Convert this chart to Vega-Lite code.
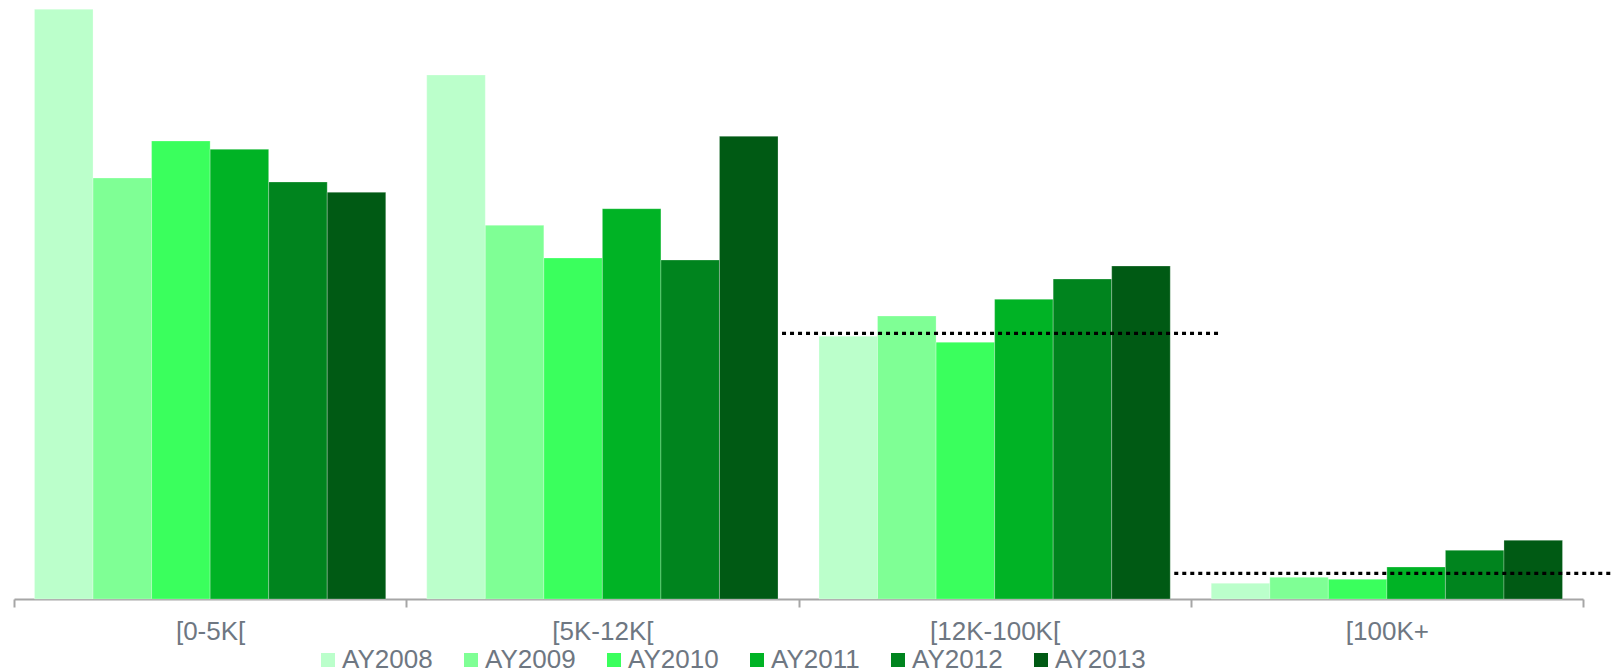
{
  "$schema": "https://vega.github.io/schema/vega-lite/v6.json",
  "autosize": "none",
  "width": 1569,
  "height": 599,
  "padding": {"left": 14, "top": 0, "right": 29, "bottom": 72},
  "background": "#ffffff",
  "config": {
    "view": {"stroke": null},
    "font": "Liberation Sans"
  },
  "datasets": {
    "bars": [
      {"band": "[0-5K[", "year": "AY2008", "value": 589.7},
      {"band": "[0-5K[", "year": "AY2009", "value": 421.0},
      {"band": "[0-5K[", "year": "AY2010", "value": 458.0},
      {"band": "[0-5K[", "year": "AY2011", "value": 449.7},
      {"band": "[0-5K[", "year": "AY2012", "value": 417.0},
      {"band": "[0-5K[", "year": "AY2013", "value": 406.7},
      {"band": "[5K-12K[", "year": "AY2008", "value": 524.0},
      {"band": "[5K-12K[", "year": "AY2009", "value": 373.7},
      {"band": "[5K-12K[", "year": "AY2010", "value": 341.0},
      {"band": "[5K-12K[", "year": "AY2011", "value": 390.3},
      {"band": "[5K-12K[", "year": "AY2012", "value": 339.0},
      {"band": "[5K-12K[", "year": "AY2013", "value": 462.7},
      {"band": "[12K-100K[", "year": "AY2008", "value": 262.7},
      {"band": "[12K-100K[", "year": "AY2009", "value": 283.0},
      {"band": "[12K-100K[", "year": "AY2010", "value": 256.7},
      {"band": "[12K-100K[", "year": "AY2011", "value": 299.7},
      {"band": "[12K-100K[", "year": "AY2012", "value": 320.0},
      {"band": "[12K-100K[", "year": "AY2013", "value": 333.0},
      {"band": "[100K+", "year": "AY2008", "value": 15.7},
      {"band": "[100K+", "year": "AY2009", "value": 21.7},
      {"band": "[100K+", "year": "AY2010", "value": 19.7},
      {"band": "[100K+", "year": "AY2011", "value": 32.0},
      {"band": "[100K+", "year": "AY2012", "value": 48.7},
      {"band": "[100K+", "year": "AY2013", "value": 58.7}
    ],
    "refs": [
      {"band": "[12K-100K[", "ref": 265.7},
      {"band": "[100K+", "ref": 25.7}
    ]
  },
  "layer": [
    {
      "data": {"name": "bars"},
      "mark": {"type": "bar", "stroke": "#ffffff", "strokeOpacity": 0.25, "strokeWidth": 1},
      "encoding": {
        "x": {
          "field": "band",
          "type": "nominal",
          "scale": {
            "domain": ["[0-5K[", "[5K-12K[", "[12K-100K[", "[100K+"],
            "paddingInner": 0,
            "paddingOuter": 0
          },
          "axis": {
            "title": null,
            "labelAngle": 0,
            "labelFont": "Liberation Sans",
            "labelFontSize": 26,
            "labelColor": "#6E7782",
            "labelPadding": 11,
            "domainColor": "#A6A6A6",
            "domainWidth": 2,
            "tickColor": "#A6A6A6",
            "tickWidth": 2,
            "tickSize": 8,
            "tickBand": "extent",
            "grid": false
          }
        },
        "xOffset": {
          "field": "year",
          "type": "nominal",
          "sort": ["AY2008", "AY2009", "AY2010", "AY2011", "AY2012", "AY2013"],
          "scale": {"paddingInner": 0, "paddingOuter": 0.35}
        },
        "y": {
          "field": "value",
          "type": "quantitative",
          "scale": {"domain": [0, 599], "nice": false, "zero": true},
          "axis": null
        },
        "color": {
          "field": "year",
          "type": "nominal",
          "scale": {
            "domain": ["AY2008", "AY2009", "AY2010", "AY2011", "AY2012", "AY2013"],
            "range": ["#BBFFCB", "#7FFF95", "#3AFF5D", "#00B325", "#00841E", "#005A14"]
          },
          "legend": {
            "title": null,
            "orient": "none",
            "direction": "horizontal",
            "columns": 6,
            "legendX": 301,
            "legendY": 647,
            "padding": 0,
            "symbolType": "square",
            "symbolSize": 196,
            "symbolStrokeWidth": 0,
            "symbolOffset": 0,
            "labelFont": "Liberation Sans",
            "labelFontSize": 26,
            "labelColor": "#6E7782",
            "labelOffset": 1,
            "columnPadding": 25,
            "labelLimit": 200
          }
        }
      }
    },
    {
      "data": {"name": "refs"},
      "mark": {"type": "rule", "color": "#000000", "strokeWidth": 3.3, "strokeDash": [4, 4], "strokeCap": "butt"},
      "encoding": {
        "x": {"field": "band", "type": "nominal", "bandPosition": -0.042},
        "x2": {"field": "band", "bandPosition": 1.07},
        "y": {"field": "ref", "type": "quantitative"}
      }
    }
  ]
}
